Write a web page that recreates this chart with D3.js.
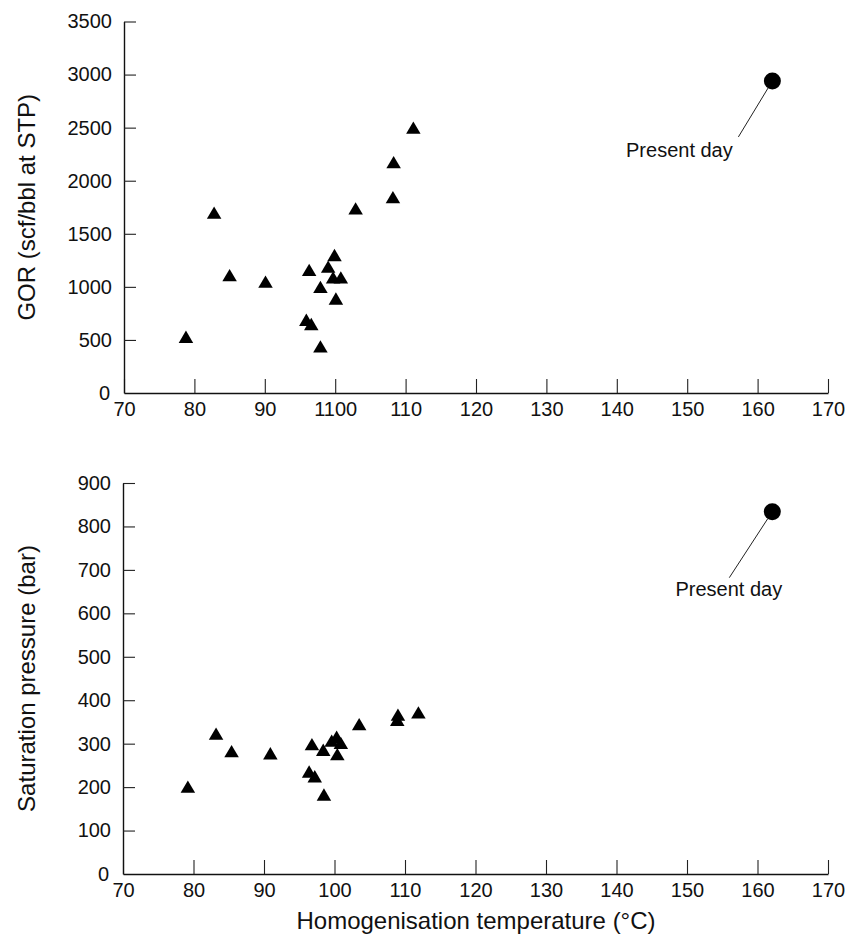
<!DOCTYPE html>
<html>
<head>
<meta charset="utf-8">
<script src="https://cdn.jsdelivr.net/npm/d3@7"></script>
<style>
  body { margin: 0; background: #fff; }
  svg { display: block; font-family: "Liberation Sans", Arial, Helvetica, sans-serif; }
  .axis .domain { stroke: #111; stroke-width: 1.4; }
  .axis .tick line { stroke: #222; stroke-width: 1.1; }
  .axis .tick text { fill: #111; font-size: 20px; font-family: "Liberation Sans", Arial, Helvetica, sans-serif; }
  .title { fill: #111; font-size: 24px; }
  .note { fill: #111; font-size: 20px; }
</style>
</head>
<body>
<div id="chart"></div>
<script>
/*
	Fluid inclusion GOR and saturation pressure vs homogenisation temperature
*/

// x ticks (the top panel really reads "1100" at 100)
var xTicks = [70, 80, 90, 100, 110, 120, 130, 140, 150, 160, 170];
var xTickLabelsTop = ["70", "80", "90", "1100", "110", "120", "130", "140", "150", "160", "170"];
var xTickLabelsBottom = ["70", "80", "90", "100", "110", "120", "130", "140", "150", "160", "170"];

var gorTicks = [0, 500, 1000, 1500, 2000, 2500, 3000, 3500];
var psatTicks = [0, 100, 200, 300, 400, 500, 600, 700, 800, 900];

// inclusion data (triangles)
var gorTemp = [78.8, 82.8, 85.0, 90.1, 96.3, 99.0, 99.9, 97.9, 99.7, 100.8, 100.1, 95.9, 96.6, 97.9, 102.9, 108.2, 108.3, 111.1];
var gorValue = [530, 1700, 1110, 1050, 1160, 1190, 1300, 1000, 1090, 1090, 890, 690, 650, 440, 1740, 1845, 2175, 2500];

var psatTemp = [79.2, 83.2, 85.4, 90.9, 96.8, 96.4, 97.2, 98.5, 98.4, 99.6, 100.3, 100.9, 100.4, 103.5, 108.9, 109.0, 111.9];
var psatValue = [201, 323, 283, 278, 299, 236, 225, 183, 286, 307, 316, 302, 276, 345, 355, 367, 372];

// present day reservoir (circle)
var presentTemp = 162.1;
var presentGor = 2940;
var presentPsat = 834;

// triangle with its bounding box centred on the point
var triangle = {
    draw: function (ctx, size) {
        var w = size, h = size * 0.85;
        ctx.moveTo(0, -h / 2);
        ctx.lineTo(w / 2, h / 2);
        ctx.lineTo(-w / 2, h / 2);
        ctx.closePath();
    }
};

function makeScatterplot(cfg) {
    var chartObj = {};
    chartObj.margin = cfg.margin;
    chartObj.width = cfg.width;
    chartObj.height = cfg.height;

    chartObj.xScale = d3.scaleLinear().domain([70, 170]).range([0, chartObj.width]);
    chartObj.yScale = d3.scaleLinear().domain(cfg.yDomain).range([chartObj.height, 0]);

    chartObj.xAxis = d3.axisBottom(chartObj.xScale)
        .tickValues(xTicks)
        .tickFormat(function (d, i) { return cfg.xLabels[i]; })
        .tickSizeInner(-14).tickSizeOuter(0).tickPadding(9);
    chartObj.yAxis = d3.axisLeft(chartObj.yScale)
        .tickValues(cfg.yTicks)
        .tickFormat(d3.format("d"))
        .tickSizeInner(-12).tickSizeOuter(0).tickPadding(12);

    chartObj.render = function (svg) {
        var g = svg.append("g")
            .attr("transform", "translate(" + chartObj.margin.left + "," + chartObj.margin.top + ")");

        var gx = g.append("g").attr("class", "x axis")
            .attr("transform", "translate(0," + chartObj.height + ")")
            .call(chartObj.xAxis);
        gx.selectAll(".tick text").attr("dy", "0.71em");

        var gy = g.append("g").attr("class", "y axis").call(chartObj.yAxis);
        // no tick mark drawn at zero, label sits a touch further out
        gy.selectAll(".tick").filter(function (d) { return d === 0; })
            .select("line").remove();
        gy.selectAll(".tick").filter(function (d) { return d === 0; })
            .select("text").attr("x", -14);

        // y axis title
        svg.append("text")
            .attr("class", "title")
            .attr("transform", "translate(35," + (chartObj.margin.top + chartObj.height / 2) + ") rotate(-90)")
            .style("text-anchor", "middle")
            .text(cfg.yTitle);

        // triangles
        g.selectAll("path.pt")
            .data(cfg.xs)
            .enter()
          .append("path")
            .attr("class", "pt")
            .attr("transform", function (d, i) {
                return "translate(" + chartObj.xScale(d) + "," + chartObj.yScale(cfg.ys[i]) + ")";
            })
            .attr("d", d3.symbol().type(triangle).size(14.5))
            .attr("fill", "#000");

        // present day marker and leader
        var px = chartObj.xScale(presentTemp), py = chartObj.yScale(cfg.present);
        var n = cfg.note;
        var len = Math.sqrt(n.dx * n.dx + n.dy * n.dy);
        g.append("line")
            .attr("x1", px + n.dx / len * 8).attr("y1", py + n.dy / len * 8)
            .attr("x2", px + n.dx).attr("y2", py + n.dy)
            .attr("stroke", "#222").attr("stroke-width", 1);
        g.append("circle")
            .attr("cx", px).attr("cy", py).attr("r", 8.5)
            .attr("fill", "#000");
        g.append("text")
            .attr("class", "note")
            .attr("x", px + n.tx).attr("y", py + n.ty)
            .style("text-anchor", "middle")
            .text("Present day");

        return chartObj;
    };

    return chartObj;
}

var svg = d3.select("#chart").append("svg")
    .attr("width", 847).attr("height", 942);

makeScatterplot({
    margin: {left: 124, top: 21.5},
    width: 704, height: 371.5,
    yDomain: [0, 3500], yTicks: gorTicks,
    xLabels: xTickLabelsTop,
    xs: gorTemp, ys: gorValue, present: presentGor,
    yTitle: "GOR (scf/bbl at STP)",
    note: {dx: -34, dy: 56, tx: -93, ty: 76}
}).render(svg);

makeScatterplot({
    margin: {left: 123, top: 483},
    width: 705, height: 391,
    yDomain: [0, 900], yTicks: psatTicks,
    xLabels: xTickLabelsBottom,
    xs: psatTemp, ys: psatValue, present: presentPsat,
    yTitle: "Saturation pressure (bar)",
    note: {dx: -43, dy: 66, tx: -43.5, ty: 84}
}).render(svg);

// shared x axis title
svg.append("text")
    .attr("class", "title")
    .attr("x", 476).attr("y", 929)
    .style("text-anchor", "middle")
    .text("Homogenisation temperature (\u00B0C)");
</script>
</body>
</html>
